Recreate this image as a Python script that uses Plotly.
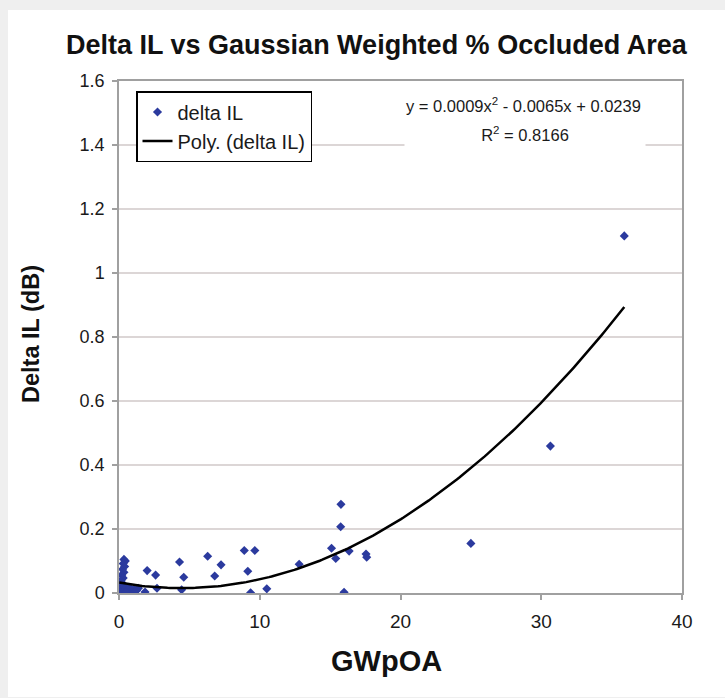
import numpy as np
import plotly.graph_objects as go

# GWpOA (x) and Delta IL in dB (y)
# dense cluster near the origin
cluster_x = [0.35, 0.45, 0.30, 0.40, 0.25, 0.35, 0.20, 0.30, 0.15, 0.25,
             0.02, 0.05, 0.08, 0.10, 0.12, 0.15, 0.18, 0.20, 0.22, 0.25,
             0.28, 0.30, 0.33, 0.36, 0.40, 0.44, 0.48, 0.52, 0.56, 0.60,
             0.65, 0.70, 0.75, 0.80, 0.88, 0.95, 1.05, 1.15, 1.25, 1.38,
             0.04, 0.12, 0.26, 0.50]
cluster_y = [0.105, 0.100, 0.092, 0.083, 0.074, 0.065, 0.056, 0.047, 0.038, 0.030,
             0.002, 0.010, 0.004, 0.018, 0.006, 0.001, 0.013, 0.008, 0.003, 0.016,
             0.005, 0.011, 0.002, 0.020, 0.007, 0.003, 0.014, 0.005, 0.009, 0.002,
             0.012, 0.006, 0.017, 0.004, 0.010, 0.003, 0.013, 0.005, 0.008, 0.015,
             0.001, 0.002, 0.001, 0.003]
# the remaining, well separated points
other_x = [1.85, 2.00, 2.60, 2.70, 4.30, 4.60, 4.45, 6.30, 7.25, 6.80,
           8.90, 9.65, 9.15, 9.35, 10.50, 12.80, 15.10, 15.40, 15.75, 15.77,
           16.35, 15.99, 17.55, 17.60, 25.00, 30.65, 35.90]
other_y = [0.003, 0.070, 0.056, 0.015, 0.097, 0.049, 0.010, 0.115, 0.088, 0.053,
           0.133, 0.133, 0.068, 0.001, 0.013, 0.090, 0.140, 0.108, 0.207, 0.277,
           0.131, 0.002, 0.122, 0.112, 0.155, 0.459, 1.116]

gwpoa = cluster_x + other_x
delta_il = cluster_y + other_y

x_ticks = [0, 10, 20, 30, 40]
y_ticks = [0, 0.2, 0.4, 0.6, 0.8, 1.0, 1.2, 1.4, 1.6]
y_tick_text = ["0", "0.2", "0.4", "0.6", "0.8", "1", "1.2", "1.4", "1.6"]

# 2nd-order polynomial trendline fitted to the data (as Excel does)
coef = np.polyfit(gwpoa, delta_il, 2)
xs = np.linspace(min(gwpoa), max(gwpoa), 200)
ys = np.polyval(coef, xs)

FONT = "Liberation Sans, Arial, sans-serif"
BLUE = "#2b3a9e"

fig = go.Figure()
fig.add_trace(go.Scatter(x=gwpoa, y=delta_il, mode="markers", name="delta IL",
                         marker=dict(symbol="diamond", size=7, color=BLUE, line=dict(width=0))))
fig.add_trace(go.Scatter(x=xs, y=ys, mode="lines", name="Poly. (delta IL)",
                         line=dict(color="black", width=2.5)))

L, R, T, B = 119, 43, 81, 105
W, H = 725 - L - R, 698 - T - B

def px(xp):
    return (xp - L) / W

def py(yp):
    return (698 - B - yp) / H

fig.update_layout(
    width=725, height=698,
    margin=dict(l=L, r=R, t=T, b=B, pad=0),
    paper_bgcolor="#efefef", plot_bgcolor="white",
    font=dict(family=FONT, color="#1a1a1a", size=18),
    showlegend=True,
    legend=dict(x=px(136), y=py(91), xanchor="left", yanchor="top",
                bgcolor="white", bordercolor="black", borderwidth=1.5,
                font=dict(size=20, color="#1a1a1a", family=FONT),
                itemwidth=30),
    xaxis=dict(range=[0, 40], tickvals=x_ticks, showgrid=False, zeroline=False,
               showline=True, linecolor="#a0a0a0", linewidth=1.5, mirror=True,
               ticks="outside", ticklen=5, tickcolor="#a0a0a0", tickwidth=1.5,
               tickfont=dict(size=19), ticklabelstandoff=5),
    yaxis=dict(range=[0, 1.6], tickvals=y_ticks, ticktext=y_tick_text,
               showgrid=True, gridcolor="#dcd6d6", gridwidth=1.5, zeroline=False,
               showline=True, linecolor="#a0a0a0", linewidth=1.5, mirror=True,
               ticks="outside", ticklen=5, tickcolor="#a0a0a0", tickwidth=1.5,
               tickfont=dict(size=18), ticklabelstandoff=4),
    shapes=[dict(type="rect", xref="paper", yref="paper", layer="below",
                 x0=px(8), x1=px(740), y0=py(697), y1=py(10),
                 fillcolor="white", line=dict(width=0))],
    annotations=[
        dict(text="<b>Delta IL vs Gaussian Weighted % Occluded Area</b>", xref="paper", yref="paper",
             x=px(377), y=py(45), xanchor="center", yanchor="middle", showarrow=False,
             font=dict(size=27, color="#111111", family=FONT)),
        dict(text="<b>Delta IL (dB)</b>", xref="paper", yref="paper", textangle=-90,
             x=px(31), y=py(334), xanchor="center", yanchor="middle", showarrow=False,
             font=dict(size=23.5, color="#111111", family=FONT)),
        dict(text="<b>GWpOA</b>", xref="paper", yref="paper",
             x=px(386), y=py(661), xanchor="center", yanchor="middle", showarrow=False,
             font=dict(size=29, color="#111111", family=FONT)),
        dict(text="y = 0.0009x<sup>2</sup> - 0.0065x + 0.0239",
             xref="paper", yref="paper", x=px(523), y=py(105), xanchor="center", yanchor="middle",
             showarrow=False, font=dict(size=16.5, color="#1a1a1a", family=FONT)),
        dict(text="R<sup>2</sup> = 0.8166",
             xref="paper", yref="paper", x=px(525), y=py(134), xanchor="center", yanchor="middle",
             showarrow=False, bgcolor="white", width=236, height=22, borderpad=2,
             font=dict(size=16.5, color="#1a1a1a", family=FONT)),
    ],
)

fig.write_html("out.html", config={"displayModeBar": False},
               post_script="document.body.style.margin='0px';")
